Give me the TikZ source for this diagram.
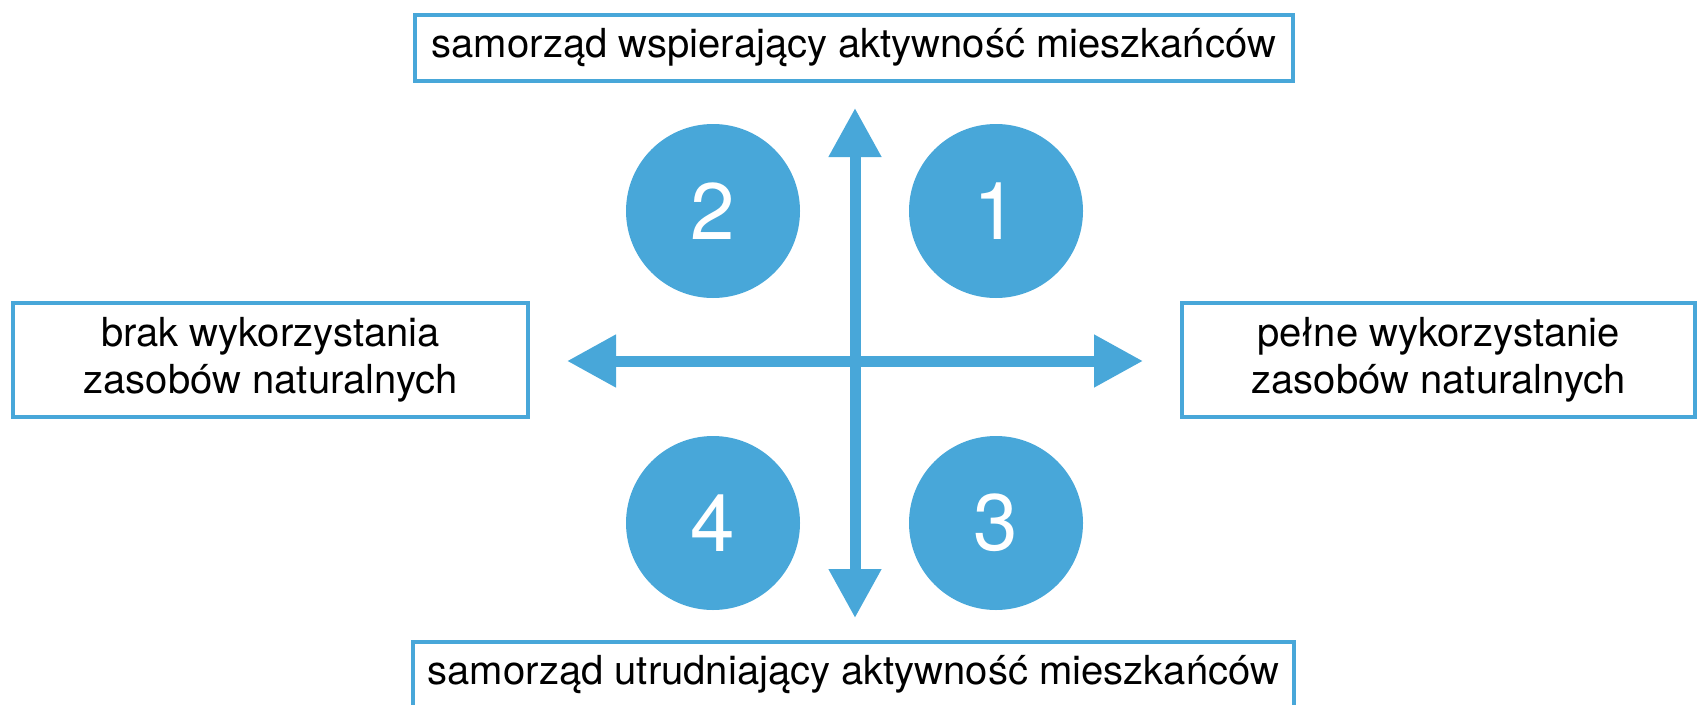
\documentclass[tikz,border=0pt]{standalone}
\usepackage{fontspec}
\setmainfont{TeX Gyre Heros}
\usetikzlibrary{arrows.meta}
\definecolor{qblue}{RGB}{72,167,217}
\tikzset{
  labelbox/.style={draw=qblue, line width=4.5pt, fill=white, inner sep=0pt, align=center,
    font=\fontsize{40}{47}\selectfont, text=black},
  quad/.style={circle, fill=qblue, minimum size=174pt, inner sep=0pt, text=white,
    font=\fontsize{80}{80}\selectfont},
  axis/.style={qblue, line width=11pt, {Triangle[length=49pt,width=50pt]}-{Triangle[length=49pt,width=50pt]}}
}
\begin{document}
\begin{tikzpicture}[x=1pt,y=-1pt]
\useasboundingbox (0,0) rectangle (1699,704);
\clip (0,0) rectangle (1699,704);
% axes
\coordinate (vt) at (855,108);
\coordinate (vb) at (855,618);
\coordinate (hl) at (567,361);
\coordinate (hr) at (1143,361);
\draw[axis] (vt) -- (vb);
\draw[axis] (hl) -- (hr);
% quadrant circles
\node[quad] (q1) at (996,211) {1};
\node[quad] (q2) at (713,211) {2};
\node[quad] (q3) at (996,523) {3};
\node[quad] (q4) at (713,523) {4};
% label boxes
\node[labelbox, minimum width=878pt, minimum height=66pt] (top) at (854,48) {samorząd wspierający aktywność mieszkańców};
\node[labelbox, minimum width=881pt, minimum height=66pt] (bottom) at (853.5,675) {samorząd utrudniający aktywność mieszkańców};
\node[labelbox, minimum width=515pt, minimum height=114pt] (left) at (270.5,360) {brak wykorzystania\\zasobów naturalnych};
\node[labelbox, minimum width=513pt, minimum height=114pt] (right) at (1438.5,360) {pełne wykorzystanie\\zasobów naturalnych};
\end{tikzpicture}
\end{document}
